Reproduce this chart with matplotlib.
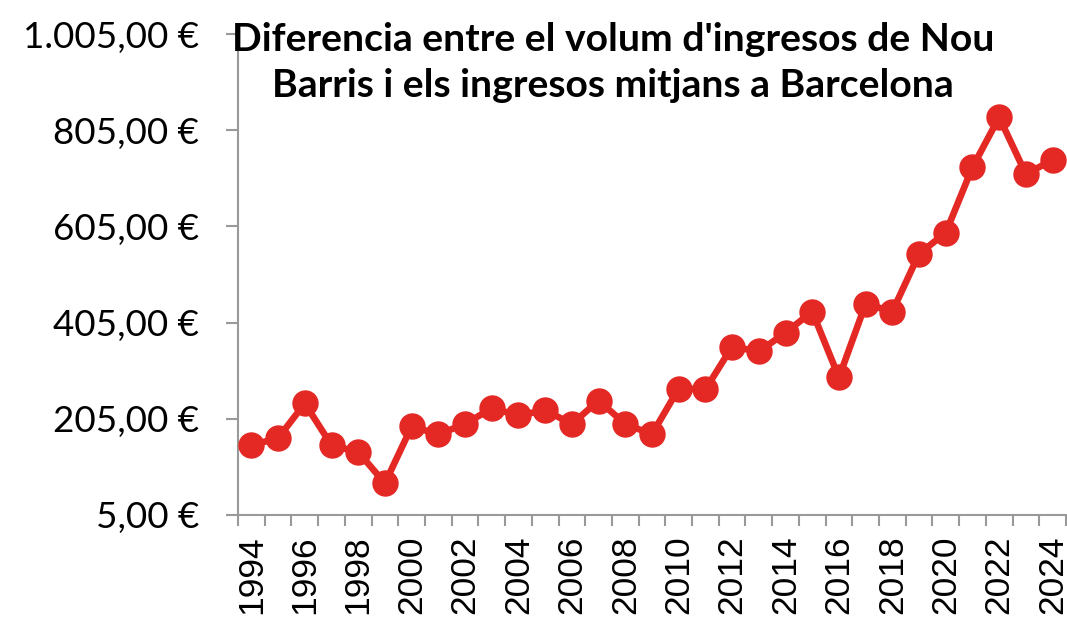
import numpy as np
import matplotlib
matplotlib.use('Agg')
from matplotlib import pyplot as plt
from matplotlib.ticker import FuncFormatter

years = list(range(1994, 2025))
diff = [150, 165, 237, 150, 136, 71, 189, 173, 194, 227, 212, 223, 194, 243, 194, 173,
        268, 266, 355, 345, 384, 428, 291, 444, 428, 548, 592, 728, 832, 714, 743]

title = "Diferencia entre el volum d'ingresos de Nou\nBarris i els ingresos mitjans a Barcelona"

def euro(v, pos):
    s = '{:,.2f}'.format(v)
    s = s.replace(',', 'X').replace('.', ',').replace('X', '.')
    return s + ' €'

fig = plt.figure(figsize=(10.67, 6.21), dpi=100)
ax = fig.add_axes([0.2231, 0.1707, 0.7759, 0.7745])

x = np.arange(len(years))
ax.plot(x, diff, color='#E42824', linewidth=4.8, marker='o', markersize=18,
        solid_joinstyle='round', zorder=3)

ax.set_xlim(-0.5, len(years) - 0.5)
ax.set_ylim(5, 1005)
ax.set_yticks(np.arange(5, 1006, 200))
ax.yaxis.set_major_formatter(FuncFormatter(euro))

ax.set_xticks(x[::2])
ax.set_xticklabels([str(y) for y in years[::2]], rotation=90, fontsize=25.5,
                   family='Liberation Sans', va='top')
ax.set_xticks(np.arange(-0.5, len(years), 1), minor=True)
ax.tick_params(axis='x', which='major', length=0, pad=15)
ax.tick_params(axis='x', which='minor', length=8, width=1.5, color='#999999')
ax.tick_params(axis='y', length=9, width=1.5, color='#999999', pad=19)
for lab in ax.get_yticklabels():
    lab.set_fontsize(26.5)
    lab.set_family('Lato')

for side in ['top', 'right']:
    ax.spines[side].set_visible(False)
for side in ['left', 'bottom']:
    ax.spines[side].set_color('#999999')
    ax.spines[side].set_linewidth(1.5)

fig.text(0.5745, 0.965, title, ha='center', va='top', fontsize=28.2,
         fontweight='bold', family='Lato', linespacing=1.4)

fig.savefig('out.png', dpi=100)
